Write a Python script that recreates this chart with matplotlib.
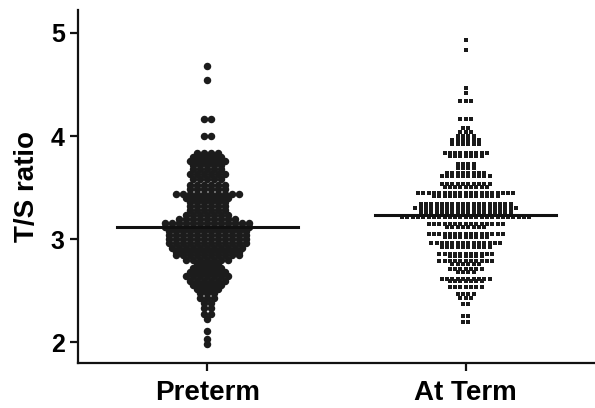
import numpy as np
import matplotlib
matplotlib.use('Agg')
import matplotlib.pyplot as plt

plt.rcParams['font.family'] = ['Liberation Sans', 'DejaVu Sans']
plt.rcParams['font.weight'] = 'bold'

groups = ['Preterm', 'At Term']
group_means = [3.12, 3.24]

# rows of the dot plot: T/S value of the row and number of dots in it
preterm_levels = [4.68, 4.54, 4.17, 4.00, 3.84, 3.80, 3.76, 3.72, 3.68, 3.63, 3.58, 3.53,
                  3.49, 3.44, 3.40, 3.36, 3.32, 3.28, 3.24, 3.20, 3.16, 3.12, 3.08, 3.04,
                  3.00, 2.96, 2.92, 2.88, 2.85, 2.80, 2.76, 2.72, 2.68, 2.64, 2.60, 2.56,
                  2.52, 2.48, 2.43, 2.38, 2.33, 2.28, 2.23, 2.11, 2.03, 1.99]
preterm_counts = [1, 1, 2, 2, 4, 5, 6, 5, 5, 6, 5, 6,
                  6, 10, 7, 6, 6, 6, 7, 9, 13, 13, 12, 12,
                  12, 12, 11, 10, 10, 7, 4, 5, 6, 7, 6, 5,
                  4, 3, 3, 2, 2, 2, 1, 1, 1, 1]

term_levels = [4.93, 4.83, 4.47, 4.42, 4.34, 4.17, 4.08, 4.04, 4.00, 3.96, 3.92, 3.84,
               3.81, 3.73, 3.69, 3.64, 3.61, 3.54, 3.51, 3.45, 3.42, 3.34, 3.30, 3.27,
               3.25, 3.22, 3.15, 3.12, 3.05, 3.02, 2.96, 2.93, 2.86, 2.84, 2.79, 2.76,
               2.71, 2.68, 2.62, 2.60, 2.54, 2.47, 2.43, 2.37, 2.26, 2.20]
term_counts = [1, 1, 1, 1, 3, 3, 2, 3, 4, 6, 6, 9,
               7, 4, 4, 8, 10, 10, 9, 19, 13, 18, 20, 18,
               18, 25, 15, 8, 15, 9, 14, 10, 11, 7, 11, 6,
               7, 4, 10, 7, 7, 4, 3, 2, 2, 2]


def swarm_rows(center, levels, counts, spacing):
    # put the dots of each row side by side around the group centre
    xs, ys = [], []
    for val, n in zip(levels, counts):
        offs = (np.arange(n) - (n - 1) / 2.0) * spacing
        xs.extend(center + offs)
        ys.extend([val] * n)
    return np.array(xs), np.array(ys)


fig = plt.figure(figsize=(5.95, 4.08), dpi=100)
ax = fig.add_axes([0.131, 0.110, 0.869, 0.865])

x0, y0 = swarm_rows(0, preterm_levels, preterm_counts, 0.027)
ax.scatter(x0, y0, s=29, marker='o', color='#1c1c1c', linewidths=0, zorder=2)

x1, y1 = swarm_rows(1, term_levels, term_counts, 0.0205)
ax.scatter(x1, y1, s=8, marker='s', color='#1a1a1a', linewidths=0, zorder=2)

for i, m in enumerate(group_means):
    ax.plot([i - 0.35, i + 0.35], [m, m], color='#111111', lw=2.2, zorder=3)

ax.set_xlim(-0.5, 1.5)
ax.set_ylim(1.8, 5.22)
ax.set_xticks([0, 1])
ax.set_xticklabels(groups, fontsize=20, fontweight='bold')
ax.set_yticks([2, 3, 4, 5])
ax.set_yticklabels(['2', '3', '4', '5'], fontsize=18, fontweight='bold')
ax.set_ylabel('T/S ratio', fontsize=20, fontweight='bold', labelpad=8)

for side in ['top', 'right']:
    ax.spines[side].set_visible(False)
for side in ['left', 'bottom']:
    ax.spines[side].set_linewidth(1.6)
    ax.spines[side].set_color('#111111')
ax.tick_params(axis='both', width=1.6, length=6, color='#111111')
ax.tick_params(axis='x', pad=6)

plt.savefig('out.png', dpi=100)
